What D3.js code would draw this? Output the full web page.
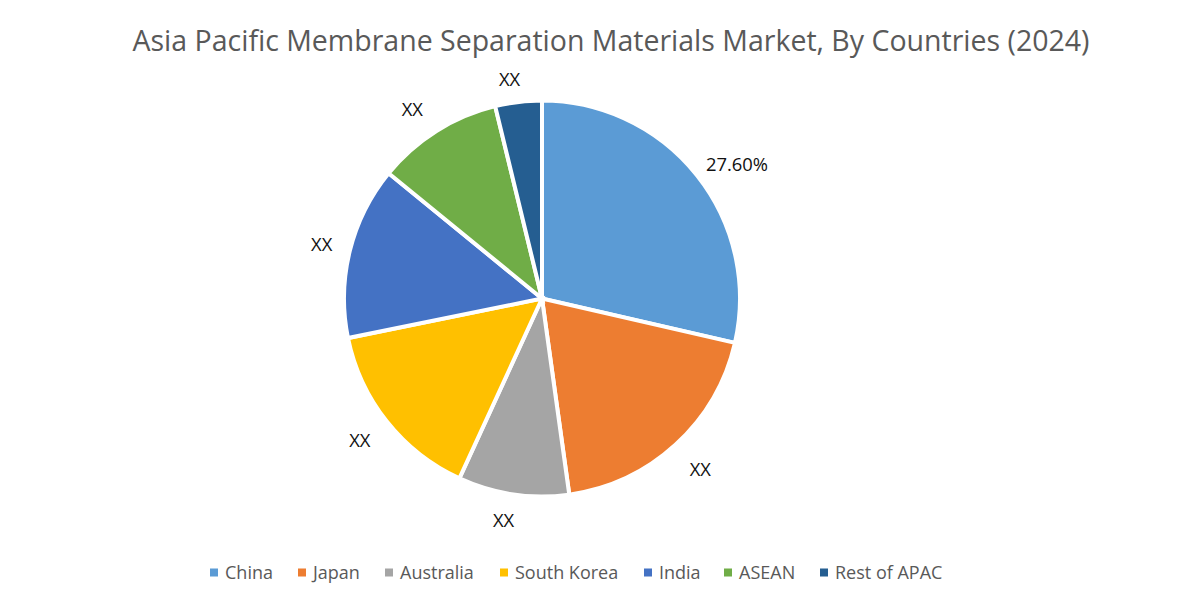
<!DOCTYPE html>
<html>
<head>
<meta charset="utf-8">
<script src="https://cdn.jsdelivr.net/npm/d3@7"></script>
<style>
  html, body { margin: 0; padding: 0; background: #fff; }
  text { font-family: "Open Sans", sans-serif; }
</style>
</head>
<body>
<svg id="chart" width="1178" height="600"></svg>
<script>
const chartTitle = "Asia Pacific Membrane Separation Materials Market, By Countries (2024)";
const categories = ["China", "Japan", "Australia", "South Korea", "India", "ASEAN", "Rest of APAC"];
// slice sizes
const shares = [28.6, 19.2, 9.05, 14.95, 14.1, 10.3, 3.8];
const labels = ["27.60%", "XX", "XX", "XX", "XX", "XX", "XX"];
const colors = ["#5b9bd5", "#ed7d31", "#a5a5a5", "#ffc000", "#4472c4", "#70ad47", "#255e91"];

const svg = d3.select("#chart");
const cx = 542, cy = 298.5, radius = 198;

svg.append("text")
  .attr("x", 611).attr("y", 51)
  .attr("text-anchor", "middle")
  .attr("font-size", 28.5)
  .attr("fill", "#595959")
  .text(chartTitle);

const pie = d3.pie().sort(null).value(d => d);
const arc = d3.arc().innerRadius(0).outerRadius(radius);
const labelArc = d3.arc().innerRadius(radius + 32).outerRadius(radius + 32);
const arcs = pie(shares);

const g = svg.append("g").attr("transform", `translate(${cx},${cy})`);

g.selectAll("path")
  .data(arcs)
  .join("path")
  .attr("d", arc)
  .attr("fill", (d, i) => colors[i])
  .attr("stroke", "#fff")
  .attr("stroke-width", 4);

// labels were hand placed in the original, so nudge them off the arc
const labelNudge = [[15, 9], [3, 1], [-5, -6], [-2, -1], [3, 1], [-7, 6], [-5, 9]];

g.selectAll("text")
  .data(arcs)
  .join("text")
  .attr("transform", (d, i) => {
    const [x, y] = labelArc.centroid(d);
    return `translate(${x + labelNudge[i][0]},${y + labelNudge[i][1]})`;
  })
  .attr("text-anchor", "middle")
  .attr("dy", "0.35em")
  .attr("font-size", 18.4)
  .attr("fill", "#111")
  .text((d, i) => labels[i]);

// legend
const legendX = d3.scaleOrdinal().domain(categories).range([210, 298, 385, 500, 644, 724, 820]);
const legend = svg.append("g").selectAll("g")
  .data(categories)
  .join("g")
  .attr("transform", d => `translate(${legendX(d)},572.5)`);

legend.append("rect")
  .attr("y", -4).attr("width", 8).attr("height", 8)
  .attr("fill", (d, i) => colors[i]);

legend.append("text")
  .attr("x", 15).attr("dy", "0.35em")
  .attr("font-size", 18)
  .attr("fill", "#595959")
  .text(d => d);
</script>
</body>
</html>
